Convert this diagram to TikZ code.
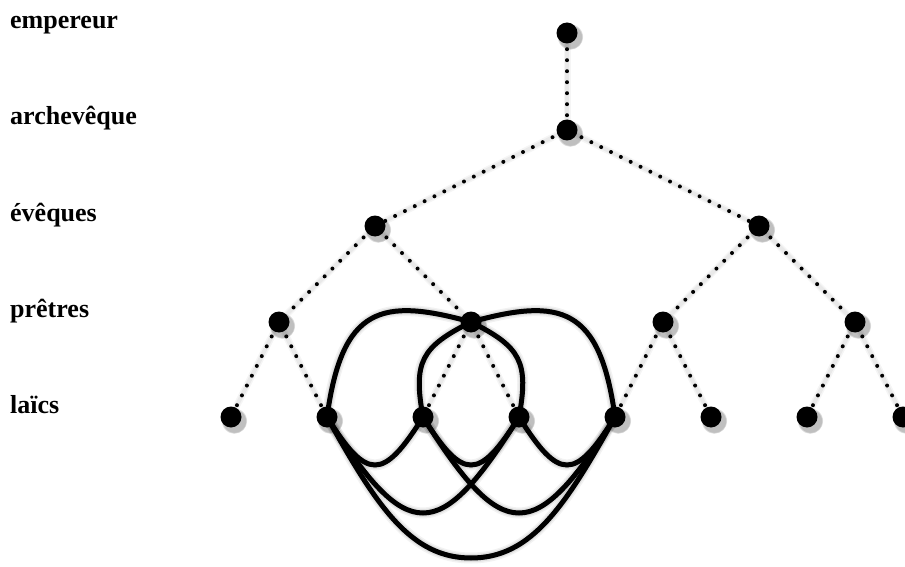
\documentclass[tikz,border=0pt]{standalone}
\usepackage{fontspec}
\setmainfont{Liberation Serif}
\usetikzlibrary{shadows,fadings}
\newcommand\knotpaths[1]{%
  \path[#1] (P2.center) .. controls +(-90,-25) and +(15,-110) .. (L2.center);
  \path[#1] (P2.center) .. controls +(90,-25) and +(-15,-110) .. (L5.center);
  \path[#1] (P2.center) .. controls +(-50,25) and +(-10,-55) .. (L3.center);
  \path[#1] (P2.center) .. controls +(50,25) and +(10,-55) .. (L4.center);
  \path[#1] (L2.center) .. controls +(40,64) and +(-40,64) .. (L3.center);
  \path[#1] (L3.center) .. controls +(40,64) and +(-40,64) .. (L4.center);
  \path[#1] (L4.center) .. controls +(40,64) and +(-40,64) .. (L5.center);
  \path[#1] (L2.center) .. controls +(80,128) and +(-80,128) .. (L4.center);
  \path[#1] (L3.center) .. controls +(80,128) and +(-80,128) .. (L5.center);
  \path[#1] (L2.center) .. controls +(50,90) and +(-60,0) .. ++(144,141)
                        .. controls +(60,0) and +(-50,90) .. (L5.center);
}
\newcommand\treelinks[1]{%
  \path[#1] (Emp) -- (A);
  \path[#1] (A) -- (E1);
  \path[#1] (A) -- (E2);
  \path[#1] (E1) -- (P1);
  \path[#1] (E1) -- (P2);
  \path[#1] (E2) -- (P3);
  \path[#1] (E2) -- (P4);
  \path[#1] (P1) -- (L1);
  \path[#1] (P1) -- (L2);
  \path[#1] (P2) -- (L3);
  \path[#1] (P2) -- (L4);
  \path[#1] (P3) -- (L5);
  \path[#1] (P3) -- (L6);
  \path[#1] (P4) -- (L7);
  \path[#1] (P4) -- (L8);
}
\begin{document}
\begin{tikzpicture}[x=1pt,y=-1pt,
  dot/.style={circle,fill=black,minimum size=21pt,inner sep=0pt,
    circular drop shadow={shadow xshift=2.5pt,shadow yshift=-3pt,shadow scale=1.25,opacity=0.5}},
  lab/.style={anchor=base west,inner sep=0pt,font=\bfseries\fontsize{26}{30}\selectfont},
  dotline/.style={draw=black,line width=4pt,line cap=round,dash pattern=on 0pt off 11pt,dash phase=5.5pt},
  knotline/.style={draw=black,line width=5pt,line cap=round},
  shadowline/.style={draw=black,line cap=round}]
\useasboundingbox (0,0) rectangle (905,567);
% labels
\node[lab] (tEmp) at (10,29) {empereur};
\node[lab] (tA) at (10,125) {archevêque};
\node[lab] (tE) at (10,221) {évêques};
\node[lab] (tP) at (10,317) {prêtres};
\node[lab] (tL) at (10,413) {laïcs};
% nodes
\node[dot] (Emp) at (567,33) {};
\node[dot] (A) at (567,130) {};
\node[dot] (E1) at (375,226) {};
\node[dot] (E2) at (759,226) {};
\node[dot] (P1) at (279,322) {};
\node[dot] (P2) at (471,322) {};
\node[dot] (P3) at (663,322) {};
\node[dot] (P4) at (855,322) {};
\node[dot] (L1) at (231,417) {};
\node[dot] (L2) at (327,417) {};
\node[dot] (L3) at (423,417) {};
\node[dot] (L4) at (519,417) {};
\node[dot] (L5) at (615,417) {};
\node[dot] (L6) at (711,417) {};
\node[dot] (L7) at (807,417) {};
\node[dot] (L8) at (903,417) {};
% shadows
\begin{scope}[shift={(2.5,3)}]
  \treelinks{shadowline,line width=7pt,opacity=0.04}
  \treelinks{shadowline,line width=4pt,opacity=0.05}
  \knotpaths{shadowline,line width=11pt,opacity=0.05}
  \knotpaths{shadowline,line width=8pt,opacity=0.07}
  \knotpaths{shadowline,line width=5pt,opacity=0.09}
\end{scope}
% connectors
\treelinks{dotline}
\knotpaths{knotline}
\end{tikzpicture}
\end{document}
